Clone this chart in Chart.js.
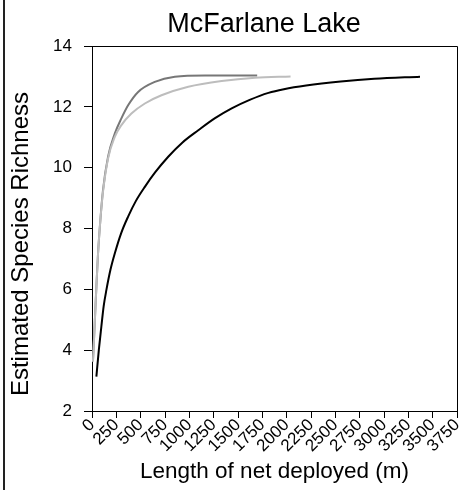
<!DOCTYPE html>
<html>
<head>
<meta charset="utf-8">
<title>McFarlane Lake</title>
<script src="https://cdn.jsdelivr.net/npm/chart.js@4/dist/chart.umd.min.js"></script>
<style>
  html, body { margin: 0; padding: 0; background: #fff; }
  #chart { display: block; }
</style>
</head>
<body>
<canvas id="chart" width="461" height="490"></canvas>
<script>
// Accumulation curves: net length (m) vs estimated species richness
const lengthA = [45, 70, 96, 120, 148, 190, 234, 300, 371, 450, 543, 650, 783, 930, 1092, 1260, 1435, 1620, 1813, 1971, 2200, 2555, 2900, 3370];
const richA   = [3.13, 4.0, 4.77, 5.45, 5.98, 6.65, 7.18, 7.85, 8.39, 8.9, 9.37, 9.85, 10.36, 10.83, 11.23, 11.62, 11.95, 12.23, 12.46, 12.58, 12.7, 12.83, 12.92, 12.99];

const lengthB = [10, 28, 45, 62, 86, 113, 165, 234, 302, 371, 474, 645, 851, 1161, 1697];
const richB   = [3.65, 4.88, 6.09, 7.18, 8.28, 9.26, 10.36, 11.12, 11.62, 12.05, 12.49, 12.82, 12.99, 13.03, 13.03];

const lengthC = [10, 28, 45, 62, 86, 113, 165, 234, 302, 405, 543, 714, 989, 1332, 1676, 2040];
const richC   = [3.62, 4.88, 6.09, 7.18, 8.28, 9.2, 10.3, 11.01, 11.4, 11.78, 12.11, 12.38, 12.66, 12.85, 12.96, 13.0];

const xTicks = [0, 250, 500, 750, 1000, 1250, 1500, 1750, 2000, 2250, 2500, 2750, 3000, 3250, 3500, 3750];
const yTicks = [2, 4, 6, 8, 10, 12, 14];

const FONT = '"Liberation Sans", Arial, sans-serif';

function toPoints(xs, ys) {
  return xs.map((x, i) => ({ x: x, y: ys[i] }));
}

// white background, left frame line, box around plot, main title and y title
const decorations = {
  id: 'decorations',
  beforeDraw(chart) {
    const ctx = chart.ctx;
    ctx.save();
    ctx.fillStyle = '#fff';
    ctx.fillRect(0, 0, chart.width, chart.height);
    ctx.restore();
  },
  afterDraw(chart) {
    const { ctx, chartArea: a } = chart;
    ctx.save();
    ctx.fillStyle = '#222';
    ctx.fillRect(3, 0, 2, chart.height);
    ctx.strokeStyle = '#000';
    ctx.lineWidth = 1;
    ctx.beginPath();
    ctx.moveTo(Math.round(a.left) + 0.5, Math.round(a.top) + 0.5);
    ctx.lineTo(Math.round(a.right) + 0.5, Math.round(a.top) + 0.5);
    ctx.lineTo(Math.round(a.right) + 0.5, Math.round(a.bottom) + 0.5);
    ctx.stroke();

    ctx.fillStyle = '#000';
    ctx.font = '27px ' + FONT;
    ctx.textAlign = 'center';
    ctx.textBaseline = 'alphabetic';
    ctx.fillText('McFarlane Lake', 264, 32);

    ctx.translate(28, 244);
    ctx.rotate(-Math.PI / 2);
    ctx.font = '24px ' + FONT;
    ctx.fillText('Estimated Species Richness', 0, 0);
    ctx.restore();
  }
};

const lineStyle = (color, width) => ({
  borderColor: color,
  borderWidth: width,
  pointRadius: 0,
  fill: false,
  cubicInterpolationMode: 'monotone'
});

new Chart(document.getElementById('chart'), {
  type: 'line',
  data: {
    datasets: [
      Object.assign({ label: 'C', data: toPoints(lengthC, richC) }, lineStyle('#bdbdbd', 2)),
      Object.assign({ label: 'B', data: toPoints(lengthB, richB) }, lineStyle('#777777', 2)),
      Object.assign({ label: 'A', data: toPoints(lengthA, richA) }, lineStyle('#000000', 2))
    ]
  },
  options: {
    responsive: false,
    animation: false,
    layout: { padding: { top: 46, right: 4, left: 0, bottom: 0 } },
    plugins: { legend: { display: false }, tooltip: { enabled: false } },
    scales: {
      x: {
        type: 'linear',
        min: 0,
        max: 3750,
        afterBuildTicks: s => { s.ticks = xTicks.map(v => ({ value: v })); },
        afterFit: s => { s.height = 79; s.paddingRight = 0; s.paddingLeft = 0; },
        grid: { drawOnChartArea: false, drawTicks: true, tickLength: 7, color: '#000', tickColor: '#000' },
        border: { display: true, color: '#000', width: 1 },
        ticks: {
          autoSkip: false,
          minRotation: 45,
          maxRotation: 45,
          padding: -3,
          color: '#000',
          font: { family: FONT, size: 17 },
          callback: v => String(v)
        },
        title: {
          display: true,
          text: 'Length of net deployed (m)',
          color: '#000',
          font: { family: FONT, size: 22.5 },
          padding: { top: 0, bottom: 5 }
        }
      },
      y: {
        min: 2,
        max: 14,
        afterBuildTicks: s => { s.ticks = yTicks.map(v => ({ value: v })); },
        afterFit: s => { s.width = 92; },
        grid: { drawOnChartArea: false, drawTicks: true, tickLength: 8, color: '#000', tickColor: '#000' },
        border: { display: true, color: '#000', width: 1 },
        ticks: {
          padding: 12,
          color: '#000',
          font: { family: FONT, size: 17 },
          callback: v => String(v)
        }
      }
    }
  },
  plugins: [decorations]
});
</script>
</body>
</html>
